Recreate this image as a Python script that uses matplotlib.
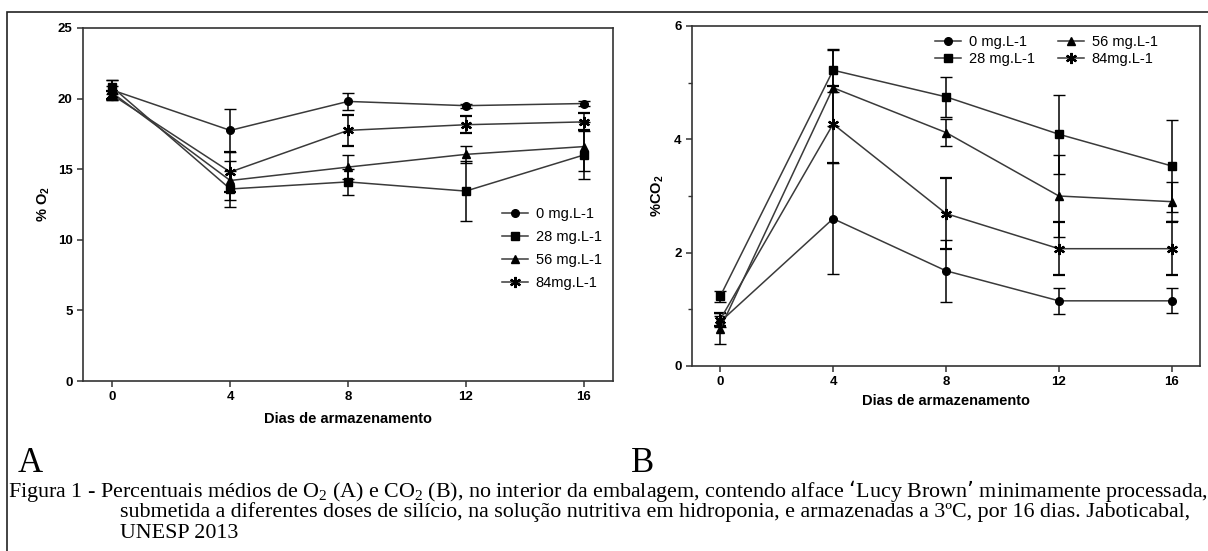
import matplotlib
matplotlib.use("Agg")
import matplotlib.pyplot as plt
from matplotlib.patches import Rectangle

plt.rcParams['font.family'] = ['Liberation Sans', 'DejaVu Sans']
plt.rcParams['mathtext.default'] = 'regular'

days = [0, 4, 8, 12, 16]
labels = ['0 mg.L-1', '28 mg.L-1', '56 mg.L-1', '84mg.L-1']
markers = ['o', 's', '^', (6, 2, 0)]

o2_0 = [20.6, 17.75, 19.8, 19.5, 19.65]
o2_28 = [20.8, 13.6, 14.1, 13.45, 16.0]
o2_56 = [20.4, 14.2, 15.15, 16.05, 16.6]
o2_84 = [20.25, 14.8, 17.75, 18.15, 18.35]
o2_err_0 = [0.7, 1.5, 0.6, 0.15, 0.15]
o2_err_28 = [0.5, 1.3, 0.9, 2.15, 1.7]
o2_err_56 = [0.5, 1.35, 0.85, 0.6, 1.75]
o2_err_84 = [0.3, 1.4, 1.1, 0.6, 0.6]

co2_0 = [0.78, 2.6, 1.68, 1.15, 1.15]
co2_28 = [1.23, 5.22, 4.75, 4.09, 3.53]
co2_56 = [0.66, 4.91, 4.12, 3.0, 2.9]
co2_84 = [0.82, 4.27, 2.69, 2.07, 2.07]
co2_err_0 = [0.1, 0.98, 0.55, 0.23, 0.22]
co2_err_28 = [0.1, 0.38, 0.35, 0.7, 0.81]
co2_err_56 = [0.27, 0.67, 0.23, 0.73, 0.34]
co2_err_84 = [0.12, 0.68, 0.62, 0.47, 0.47]

W, H = 1208, 551
fig = plt.figure(figsize=(W / 100, H / 100), dpi=100)

# outer frame (left and top edges visible)
fig.patches.append(Rectangle((7 / W, -0.1), 1.2, (H - 12) / H + 0.1, transform=fig.transFigure,
                             fill=False, edgecolor='#222222', linewidth=1.2))

axA = fig.add_axes([83 / W, (H - 381) / H, (613 - 83) / W, (381 - 28) / H])
axB = fig.add_axes([692 / W, (H - 366) / H, (1200 - 692) / W, (366 - 26) / H])

line_col = '#3a3a3a'
sizes = {'o': 5.5, 's': 5.5, '^': 5.5}


def draw(ax, series, errs):
    handles = []
    for y, e, m, lab in zip(series, errs, markers, labels):
        ms = sizes.get(m, 8) if isinstance(m, str) else 8
        mew = 1.0 if isinstance(m, str) else 1.6
        cont = ax.errorbar(days, y, yerr=e, color=line_col, ecolor='black', elinewidth=1.1,
                           capsize=4, capthick=1.1, marker=m, markersize=ms, markeredgewidth=mew,
                           markerfacecolor='black', markeredgecolor='black', lw=1.1, label=lab)
        handles.append(cont[0])
    return handles


def style(ax, ylim, yticks, minor=None):
    ax.set_xlim(-1, 17)
    ax.set_ylim(*ylim)
    ax.set_xticks(days)
    ax.set_yticks(yticks)
    if minor is not None:
        ax.set_yticks(minor, minor=True)
    for s in ax.spines.values():
        s.set_linewidth(1.2)
        s.set_color('#333333')
    ax.tick_params(direction='out', length=4, width=1.1, color='#333333', labelsize=9.5)
    ax.tick_params(which='minor', direction='out', length=3, width=1.0, color='#333333')
    for t in ax.get_xticklabels() + ax.get_yticklabels():
        t.set_fontweight('bold')


hA = draw(axA, [o2_0, o2_28, o2_56, o2_84], [o2_err_0, o2_err_28, o2_err_56, o2_err_84])
style(axA, (0, 25), [0, 5, 10, 15, 20, 25])
axA.set_xlabel('Dias de armazenamento', fontsize=10.5, fontweight='bold', labelpad=6)
axA.set_ylabel('% O$_2$', fontsize=10.5, fontweight='bold', labelpad=4)
axA.legend(hA, labels, loc='upper left', bbox_to_anchor=(0.78, 0.51), frameon=False,
           fontsize=10.5, handlelength=1.8, handletextpad=0.5, labelspacing=0.62,
           borderaxespad=0)

hB = draw(axB, [co2_0, co2_28, co2_56, co2_84], [co2_err_0, co2_err_28, co2_err_56, co2_err_84])
style(axB, (0, 6), [0, 2, 4, 6], minor=[1, 3, 5])
axB.set_xlabel('Dias de armazenamento', fontsize=10.5, fontweight='bold', labelpad=4)
axB.set_ylabel('%CO$_2$', fontsize=10.5, fontweight='bold', labelpad=6)
axB.legend(hB, labels, loc='upper left', bbox_to_anchor=(0.46, 1.0), frameon=False,
           fontsize=10.5, ncol=2, handlelength=1.8, handletextpad=0.5, labelspacing=0.2,
           columnspacing=1.6, borderaxespad=0.25)

serif = ['Liberation Serif', 'DejaVu Serif']
fig.text(18 / W, 1 - 463 / H, 'A', fontsize=25, family=serif, va='center', ha='left')
fig.text(631 / W, 1 - 463 / H, 'B', fontsize=25, family=serif, va='center', ha='left')
cap1 = ('Figura 1 - Percentuais médios de O$_2$ (A) e CO$_2$ (B), no interior da embalagem, '
        'contendo alface ‘Lucy Brown’ minimamente processada,')
cap2 = ('submetida a diferentes doses de silício, na solução nutritiva em hidroponia, '
        'e armazenadas a 3ºC, por 16 dias. Jaboticabal,')
cap3 = 'UNESP 2013'
fs_cap = 15.8
fig.text(8 / W, 1 - 491 / H, cap1, fontsize=fs_cap, family=serif, va='center', ha='left')
fig.text(120 / W, 1 - 512 / H, cap2, fontsize=fs_cap, family=serif, va='center', ha='left')
fig.text(120 / W, 1 - 533 / H, cap3, fontsize=fs_cap, family=serif, va='center', ha='left')

fig.savefig('out.png', dpi=100)
